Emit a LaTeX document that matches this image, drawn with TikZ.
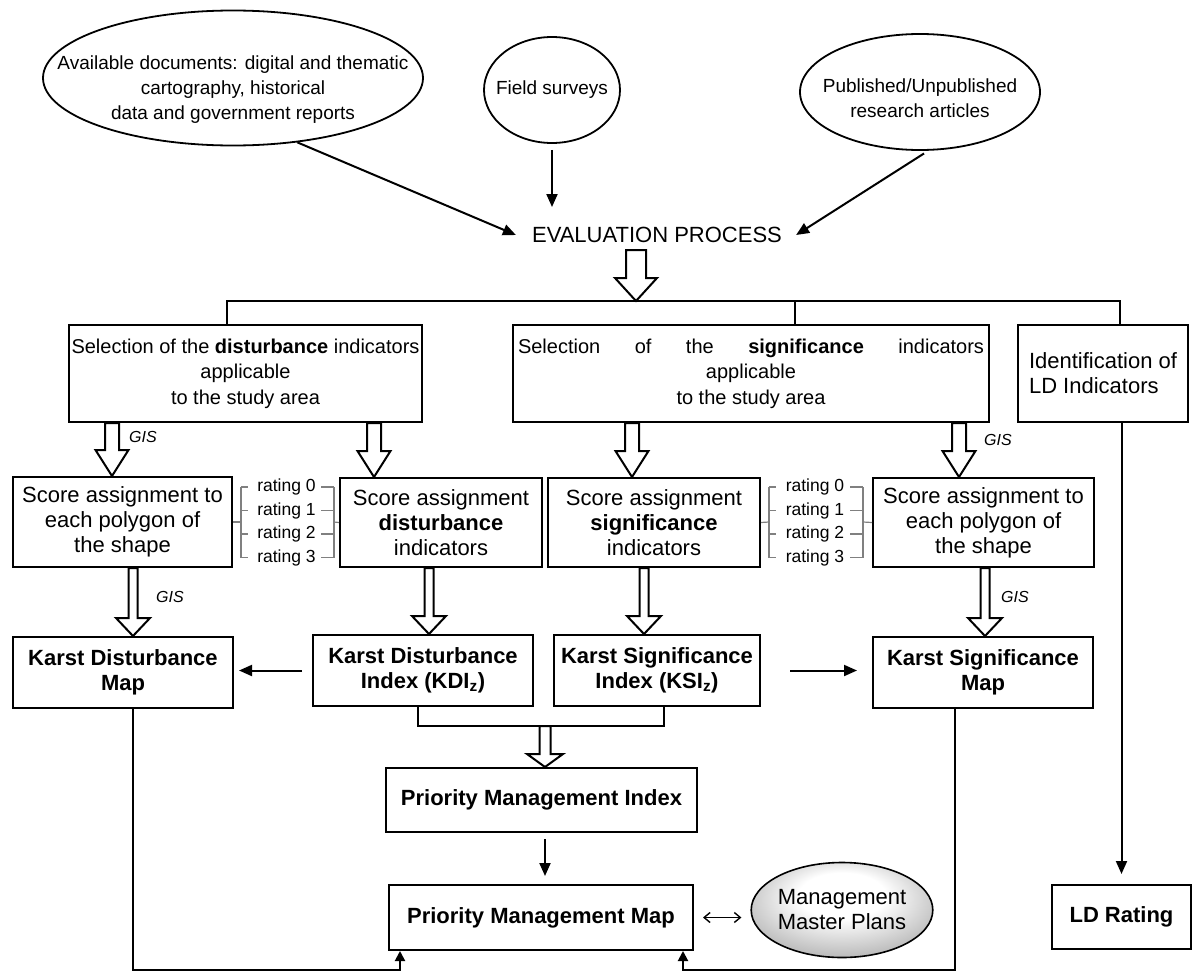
\documentclass[tikz,border=0pt]{standalone}
\usepackage{fontspec}
\setmainfont{Liberation Sans}
\usetikzlibrary{arrows.meta, positioning, calc, shapes.geometric}
\definecolor{plangray}{HTML}{7E7E7E}
\definecolor{bracketgray}{HTML}{808080}
\pgfdeclareradialshading{planshade}{\pgfpoint{0bp}{10bp}}{%
  color(0bp)=(white); color(12bp)=(white); color(44bp)=(plangray); color(50bp)=(plangray)}
\newcommand{\mainsize}{\fontsize{22}{25}\selectfont}
\newcommand{\topsize}{\fontsize{19}{25}\selectfont}
\newcommand{\selsize}{\fontsize{20}{25.5}\selectfont}
\newcommand{\ratesize}{\fontsize{17.5}{20}\selectfont}
\newcommand{\gissize}{\fontsize{16}{18}\selectfont}
% hollow block arrow: from, to, shaft half width, head half width, head length
\newcommand{\hollowarrow}[5]{%
  \draw[hollow] let \p1=(#1), \p2=(#2) in
    ({\x1-#3pt},\y1) -- ({\x1-#3pt},{\y2+#5pt}) -- ({\x1-#4pt},{\y2+#5pt})
    -- (\x1,\y2) -- ({\x1+#4pt},{\y2+#5pt}) -- ({\x1+#3pt},{\y2+#5pt})
    -- ({\x1+#3pt},\y1) -- cycle;}

\begin{document}
\begin{tikzpicture}[x=1pt, y=-1pt,
    box/.style={draw, line width=2pt, align=center, inner sep=0pt, font=\mainsize},
    bbox/.style={box, font=\mainsize\bfseries},
    source/.style={ellipse, draw, line width=1.8pt, inner sep=0pt},
    hollow/.style={draw, fill=white, line width=2pt, line join=miter},
    line/.style={line width=2pt},
    arr/.style={line width=2pt, -{Triangle[length=13pt, width=11pt]}},
    smallarr/.style={line width=2pt, -{Triangle[length=10pt, width=10pt]}},
    bracket/.style={draw=bracketgray, line width=1.2pt},
    rating/.style={inner sep=0pt, font=\ratesize},
    gis/.style={inner sep=0pt, font=\gissize\itshape}
  ]
  \useasboundingbox (0,0) rectangle (1192,972);

  % sources
  \node[source, minimum width=380pt, minimum height=135pt] (docs) at (233,78) {};
  \node[font=\topsize, align=center] (docsTxt) at (233,90)
    {Available documents: digital and thematic\\cartography, historical\\data and government reports};
  \node[source, minimum width=136pt, minimum height=106pt] (field) at (552,90) {};
  \node[font=\topsize] (fieldTxt) at (552,90) {Field surveys};
  \node[source, minimum width=240pt, minimum height=116pt] (papers) at (920,92) {};
  \node[font=\topsize, align=center] (papersTxt) at (920,98)
    {Published/Unpublished\\research articles};

  \node[inner sep=0pt, font=\mainsize] (eval) at (657,235) {EVALUATION PROCESS};
  \draw[arr] (docs.-45) -- ([xshift=-16pt]eval.west);
  \draw[arr, shorten <=6pt] (field.south) -- ([yshift=20pt]field.south |- eval.north);
  \draw[arr, shorten <=5pt] (papers.-82) -- ([xshift=14pt]eval.east);

  \coordinate (bus) at (636,301);
  \hollowarrow{636,250}{bus}{10}{21}{23}

  % second row
  \node[box, font=\selsize, minimum width=353pt, minimum height=97pt] (selDist) at (245.5,373.5)
    {Selection of the \textbf{disturbance} indicators\\applicable\\to the study area};
  \node[box, font=\selsize, minimum width=476pt, minimum height=97pt] (selSig) at (751,373.5)
    {\makebox[466pt][s]{Selection of the \textbf{significance} indicators}\\applicable\\to the study area};
  \node[box, align=left, minimum width=170pt, minimum height=97pt] (identLD) at (1103,373.5)
    {Identification of\\LD Indicators};

  \draw[line] (selDist.north -| 227,0) |- (bus) -| (identLD.north -| 1120,0);
  \draw[line] (bus -| 795,0) -- (selSig.north -| 795,0);

  % score assignment
  \node[box, minimum width=219pt, minimum height=90pt] (scoreGisD) at (122.5,522)
    {Score assignment to\\each polygon of\\the shape};
  \node[box, minimum width=202pt, minimum height=89pt] (scoreDist) at (441,522.5)
    {Score assignment\\\textbf{disturbance}\\indicators};
  \node[box, minimum width=212pt, minimum height=89pt] (scoreSig) at (654,522.5)
    {Score assignment\\\textbf{significance}\\indicators};
  \node[box, minimum width=221pt, minimum height=89pt] (scoreGisS) at (983.5,522.5)
    {Score assignment to\\each polygon of\\the shape};

  \hollowarrow{112,0 |- selDist.south}{112,0 |- scoreGisD.north}{7}{16.5}{26}
  \hollowarrow{374,0 |- selDist.south}{374,0 |- scoreDist.north}{7}{16.5}{26}
  \hollowarrow{632,0 |- selSig.south}{632,0 |- scoreSig.north}{7}{16.5}{26}
  \hollowarrow{959,0 |- selSig.south}{959,0 |- scoreGisS.north}{7}{16.5}{26}
  \node[gis] (gisA) at (143,437) {GIS};
  \node[gis] (gisB) at (998,440) {GIS};

  % rating scales
  \foreach \i in {0,...,3}{
    \node[rating] (ratL\i) at (286.5,{487+23.5*\i}) {rating \i};
    \node[rating] (ratR\i) at (815,{487+23.5*\i}) {rating \i};
    \draw[bracket] (241,{487+23.5*\i}) -- (248,{487+23.5*\i});
    \draw[bracket] (321,{487+23.5*\i}) -- (334,{487+23.5*\i});
    \draw[bracket] (769,{487+23.5*\i}) -- (776,{487+23.5*\i});
    \draw[bracket] (850,{487+23.5*\i}) -- (863,{487+23.5*\i});
  }
  \draw[bracket] (241,487) -- (241,557.5) (334,487) -- (334,557.5)
    (769,487) -- (769,557.5) (863,487) -- (863,557.5);
  \draw[bracket] (scoreGisD.east) -- (241,522);
  \draw[bracket] (334,522) -- (scoreDist.west);
  \draw[bracket] (scoreSig.east) -- (769,522);
  \draw[bracket] (863,522) -- (scoreGisS.west);

  % maps and indices
  \node[bbox, minimum width=220pt, minimum height=71pt] (mapDist) at (123,672.5)
    {Karst Disturbance\\Map};
  \node[bbox, minimum width=220pt, minimum height=71pt] (idxDist) at (423,670.5)
    {Karst Disturbance\\Index (KDI\textsubscript{z})};
  \node[bbox, minimum width=206pt, minimum height=71pt] (idxSig) at (657,670.5)
    {Karst Significance\\Index (KSI\textsubscript{z})};
  \node[bbox, minimum width=220pt, minimum height=71pt] (mapSig) at (983,672.5)
    {Karst Significance\\Map};

  \hollowarrow{133,0 |- scoreGisD.south}{133,0 |- mapDist.north}{4.5}{17}{18}
  \hollowarrow{429,0 |- scoreDist.south}{429,0 |- idxDist.north}{4.5}{17}{18}
  \hollowarrow{644,0 |- scoreSig.south}{644,0 |- idxSig.north}{4.5}{17}{18}
  \hollowarrow{985,0 |- scoreGisS.south}{985,0 |- mapSig.north}{4.5}{17}{18}
  \node[gis] (gisC) at (170,597) {GIS};
  \node[gis] (gisD) at (1015,597) {GIS};

  \draw[arr, shorten <=10pt, shorten >=5pt] (idxDist.west) -- (mapDist.east |- idxDist.west);
  \draw[arr, shorten <=29pt, shorten >=15pt] (idxSig.east) -- (mapSig.west |- idxSig.east);

  % priority management
  \node[bbox, minimum width=311pt, minimum height=64pt] (pmi) at (541.5,800)
    {Priority Management Index};
  \node[bbox, minimum width=304pt, minimum height=65pt] (pmm) at (541,917.5)
    {Priority Management Map};
  \node[source, line width=1.6pt, shading=planshade, align=center,
    font=\mainsize, minimum width=181pt, minimum height=95pt] (plans) at (842,910)
    {Management\\Master Plans};
  \node[bbox, minimum width=139pt, minimum height=64pt] (ldRating) at (1121.5,917)
    {LD Rating};

  \draw[line] (idxDist.south -| 418,0) -- (418,726) -- (664,726) -- (idxSig.south -| 664,0);
  \hollowarrow{545,726}{545,0 |- pmi.north}{5.5}{18}{13}
  \draw[arr, shorten <=6pt, shorten >=8pt] (pmi.south -| 545,0) -- (pmm.north -| 545,0);
  \draw[line width=1.4pt, {Straight Barb[length=6pt, width=10pt]}-{Straight Barb[length=6pt, width=10pt]},
    shorten <=9pt, shorten >=9pt] (pmm.east) -- (pmm.east -| plans.west);

  \draw[arr, shorten >=10pt] (identLD.south -| ldRating.north) -- (ldRating.north);

  \draw[smallarr] (mapDist.south -| 133,0) -- (133,970) -| (pmm.south -| 400,0);
  \draw[smallarr] (mapSig.south -| 955,0) -- (955,970) -| (pmm.south -| 683,0);
\end{tikzpicture}
\end{document}
